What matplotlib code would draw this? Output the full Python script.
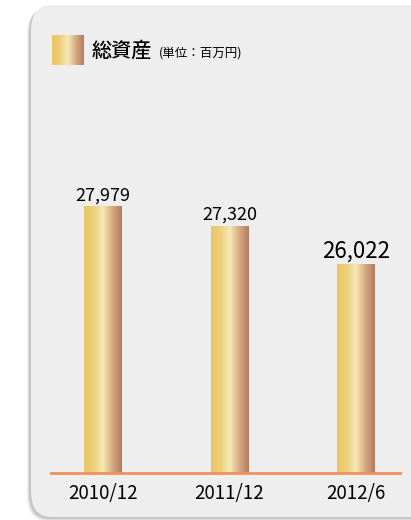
import numpy as np
import matplotlib.pyplot as plt
from matplotlib.colors import LinearSegmentedColormap
from matplotlib.patches import FancyBboxPatch

# データ（単位：百万円）
periods = ["2010/12", "2011/12", "2012/6"]
total_assets = [27979, 27320, 26022]
label_sizes = [13, 13, 16]

plt.rcParams['font.family'] = ['Noto Sans CJK JP', 'DejaVu Sans']

W, H = 411, 520
fig = plt.figure(figsize=(W / 100, H / 100), dpi=100)
fig.patch.set_facecolor("white")

# 背景パネル（角丸＋影）
for off, a in [(4, 0.06), (3, 0.08), (2, 0.10)]:
    shadow = FancyBboxPatch(((31 - off) / W, (H - 517 - off) / H), 420 / W, 512 / H,
                            boxstyle="round,pad=0,rounding_size=0.05",
                            transform=fig.transFigure, facecolor="black",
                            alpha=a, edgecolor="none", zorder=0)
    fig.patches.append(shadow)
panel = FancyBboxPatch((31 / W, (H - 517) / H), 420 / W, 512 / H,
                       boxstyle="round,pad=0,rounding_size=0.05",
                       transform=fig.transFigure, facecolor="#eeeeee",
                       edgecolor="none", zorder=1)
fig.patches.append(panel)

gold = LinearSegmentedColormap.from_list(
    "gold", [(0.0, "#ebc55e"), (0.25, "#edd07a"), (0.5, "#f6e8b6"),
             (0.75, "#d5aa80"), (1.0, "#b27a5e")])
grad = np.linspace(0, 1, 256).reshape(1, -1)

ax = fig.add_axes([51 / W, 47 / H, 349 / W, 373 / H], zorder=5)
ax.set_facecolor("none")
x = np.arange(len(periods))
bars = ax.bar(x, total_assets, width=0.30, color="none", bottom=0)

for b, v, fs in zip(bars, total_assets, label_sizes):
    x0, w, h = b.get_x(), b.get_width(), b.get_height()
    ax.imshow(grad, cmap=gold, aspect="auto", extent=(x0, x0 + w, 19004, h),
              zorder=2, interpolation="bicubic")
    ax.annotate(f"{v:,}", (x0 + w / 2, h), xytext=(0, 2), textcoords="offset points",
                ha="center", va="bottom", fontsize=fs, color="black")
ax.set_xlim(-0.411, 2.348)
ax.set_ylim(19004, 31588)

for s in ["top", "right", "left"]:
    ax.spines[s].set_visible(False)
ax.spines["bottom"].set_color("#f0905a")
ax.spines["bottom"].set_linewidth(2)
ax.spines["bottom"].set_zorder(3)
ax.set_yticks([])
ax.set_xticks(x)
ax.set_xticklabels(periods, fontsize=13.5)
ax.tick_params(axis="x", length=0, pad=7)

# 凡例
lax = fig.add_axes([52 / W, (H - 65) / H, 31 / W, 30 / H], zorder=5)
lax.imshow(grad, cmap=gold, aspect="auto", interpolation="bicubic")
lax.axis("off")
fig.text(92 / W, (H - 57) / H, "総資産", fontsize=14.5, fontweight="medium", va="baseline", zorder=6)
fig.text(159 / W, (H - 57) / H, "(単位：百万円)", fontsize=9, va="baseline", zorder=6)

fig.savefig("out.png", dpi=100)
